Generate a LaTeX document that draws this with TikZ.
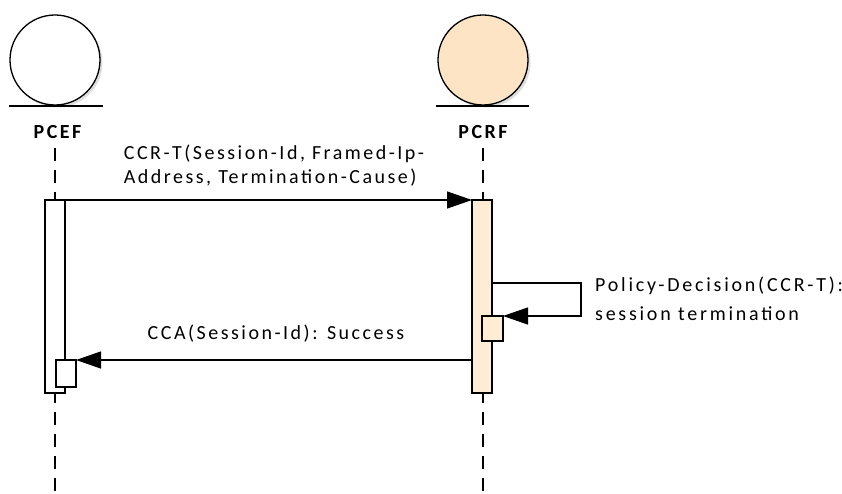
\documentclass[tikz,border=0pt]{standalone}
\usepackage{fontspec}
\setmainfont{Carlito}
\newfontfamily\msgfont[LetterSpace=12.5]{Carlito}
\newfontfamily\policyfont[LetterSpace=13.8]{Carlito}
\usepackage{tikz}
\usetikzlibrary{arrows.meta,positioning}
\definecolor{peach}{RGB}{252,228,196}
\definecolor{barpeach}{RGB}{255,236,212}
\tikzstyle{actor} = [draw=black, line width=1.3pt]
\tikzstyle{ActorLabel} = [font=\msgfont\fontsize{20}{24}\selectfont\bfseries, inner sep=0pt]
\tikzstyle{lifeline} = [line width=1.2pt, dash pattern=on 13pt off 9pt]
\tikzstyle{activation} = [draw=black, line width=1.2pt]
\tikzstyle{msg} = [line width=1.3pt,-{Triangle[length=25pt,width=17pt]}]
\tikzstyle{MsgText} = [font=\msgfont\fontsize{20}{24}\selectfont, align=left, inner sep=0pt]
\begin{document}
\begin{tikzpicture}[x=1pt,y=-1pt]
        \useasboundingbox (0,0) rectangle (842,494);
        % actors
        \fill [gray!25] (57.5,62.5) circle (45); %shadow
        \draw [actor, fill=white] (55,60) circle (45) node (PcefHead) {};
        \draw [actor] (9,106) -- (103,106);
        \node [ActorLabel] (PcefLabel) at (57.5,132) {PCEF};
        \fill [gray!25] (485.5,62.5) circle (45); %shadow
        \draw [actor, fill=peach] (483,60) circle (45) node (PcrfHead) {};
        \draw [actor] (436,106) -- (529,106);
        \node [ActorLabel] (PcrfLabel) at (483,132) {PCRF};
        % lifelines
        \draw [lifeline] (55,148) -- (55,494);
        \draw [lifeline] (483,148) -- (483,494);
        % activations
        \draw [activation, fill=white] (45,200) rectangle (65,393) node[pos=0.5] (PcefBar) {}; %pcef bar
        \draw [activation, fill=white] (56,360) rectangle (76,387) node[pos=0.5] (PcefBox) {}; %pcef small box
        \draw [activation, fill=barpeach] (472,200) rectangle (492,393) node[pos=0.5] (PcrfBar) {}; %pcrf bar
        \draw [activation, fill=barpeach] (482,316) rectangle (503,341) node[pos=0.5] (PcrfBox) {}; %pcrf small box
        \coordinate (CcrStart) at (65,200);
        \coordinate (CcrEnd) at (472,200);
        \coordinate (SelfStart) at (492,283);
        \coordinate (SelfEnd) at (503,316);
        \coordinate (CcaStart) at (472,360);
        \coordinate (CcaEnd) at (76,360);
        % messages
        \draw [msg] (CcrStart) -- (CcrEnd) node[MsgText, pos=0.5, above=13pt, xshift=5.5pt] (CcrText) {
            CCR-T(Session-Id, Framed-Ip-\\Address, Termination-Cause)
        };
        \draw [msg] (SelfStart) -- (581,283) -- (581,316) -- (SelfEnd);
        \node [MsgText, font=\policyfont\fontsize{20}{24}\selectfont, anchor=north west] (PolicyText) at (595,277) {
            Policy-Decision(CCR-T):\\[5pt]session termination
        };
        \draw [msg] (CcaStart) -- (CcaEnd) node[MsgText, pos=0.5, above=17pt, xshift=5.5pt] (CcaText) {
            CCA(Session-Id): Success
        };
    \end{tikzpicture}
\end{document}
